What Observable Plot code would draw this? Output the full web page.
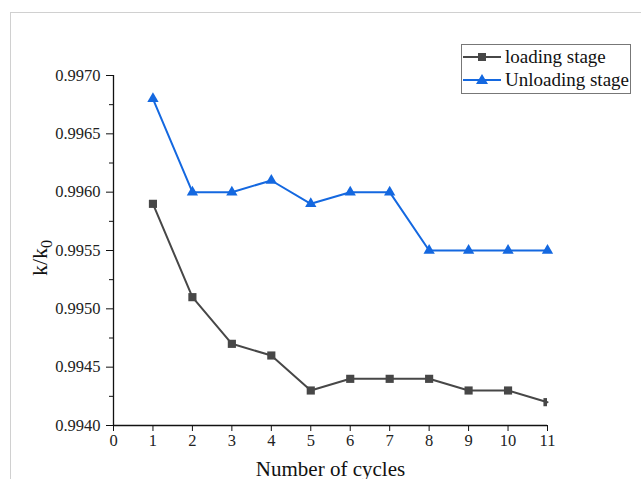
<!DOCTYPE html>
<html>
<head>
<meta charset="utf-8">
<script src="https://cdn.jsdelivr.net/npm/d3@7"></script>
<script src="https://cdn.jsdelivr.net/npm/@observablehq/plot@0.6"></script>
<style>
  html, body { margin: 0; padding: 0; background: #fff; }
  #chart svg { display: block; }
  #chart svg g[aria-label$="tick label"] text { font-size: 16.5px !important; }
  #chart svg g[aria-label$="tick label"] { font-size: 16.5px !important; }
</style>
</head>
<body>
<div id="chart"></div>
<script>
const cycles = [1, 2, 3, 4, 5, 6, 7, 8, 9, 10, 11];
const loading = [0.9959, 0.9951, 0.9947, 0.9946, 0.9943, 0.9944, 0.9944, 0.9944, 0.9943, 0.9943, 0.9942];
const unloading = [0.9968, 0.9960, 0.9960, 0.9961, 0.9959, 0.9960, 0.9960, 0.9955, 0.9955, 0.9955, 0.9955];
const seriesNames = ["loading stage", "Unloading stage"];
const xTicks = [0, 1, 2, 3, 4, 5, 6, 7, 8, 9, 10, 11];
const yTicks = [0.9940, 0.9945, 0.9950, 0.9955, 0.9960, 0.9965, 0.9970];
const yMinor = [0.99425, 0.99475, 0.99525, 0.99575, 0.99625, 0.99675];

const gray = "#474747";
const blue = "#1468e0";
const font = "'Liberation Serif', 'Times New Roman', serif";

const dataL = cycles.map((c, i) => ({x: c, y: loading[i]}));
const dataU = cycles.map((c, i) => ({x: c, y: unloading[i]}));

const plot = Plot.plot({
  width: 641,
  height: 479,
  marginLeft: 113,
  marginRight: 94,
  marginTop: 75,
  marginBottom: 54,
  style: {fontFamily: font, fontSize: "16.5px", color: "#222", background: "#fff"},
  x: {domain: [0, 11]},
  y: {domain: [0.9940, 0.9970]},
  marks: [
    Plot.axisX({ticks: xTicks, tickSize: 6, tickPadding: 3, tickFormat: d => d, label: null, fontSize: 16.5, stroke: "#111"}),
    Plot.axisY({ticks: yTicks, tickSize: 7, tickPadding: 6, tickFormat: d3.format(".4f"), label: null, fontSize: 16.5, stroke: "#111"}),
    Plot.axisY({ticks: yMinor, tickSize: 4, text: null, label: null, stroke: "#111"}),
    Plot.ruleX([0], {stroke: "#111", strokeWidth: 1.3}),
    Plot.ruleY([0.9940], {stroke: "#111", strokeWidth: 1.3}),
    Plot.line(dataL, {x: "x", y: "y", stroke: gray, strokeWidth: 2}),
    Plot.line(dataU, {x: "x", y: "y", stroke: blue, strokeWidth: 2}),
    Plot.dot(dataL, {x: "x", y: "y", symbol: "square", r: 4.6, fill: gray, clip: true}),
    Plot.dot(dataU, {x: "x", y: "y", symbol: "triangle", r: 4.2, fill: blue}),
    Plot.text(["Number of cycles"], {frameAnchor: "bottom", dy: 50, fontSize: 21, fill: "#111"})
  ]
});

const svg = d3.select(plot);
svg.selectAll('g[aria-label$="tick label"]').attr("font-size", 16.5);

// outer thin frame (partially visible in the reference)
svg.insert("rect", ":first-child")
  .attr("x", 10.5).attr("y", 12.5).attr("width", 700).attr("height", 600)
  .attr("fill", "none").attr("stroke", "#d0d0d0").attr("stroke-width", 1);

// y axis title k/k0
const yt = svg.append("text")
  .attr("transform", "translate(47,258) rotate(-90)")
  .attr("text-anchor", "middle")
  .attr("font-family", font).attr("font-size", 22).attr("fill", "#111");
yt.append("tspan").text("k/k");
yt.append("tspan").attr("font-size", 16).attr("dy", 5).text("0");

// legend
const lg = svg.append("g").attr("font-family", font).attr("font-size", 19).attr("fill", "#111").attr("text-anchor", "start");
lg.append("rect").attr("x", 461.5).attr("y", 44.5).attr("width", 169).attr("height", 49)
  .attr("fill", "#fff").attr("stroke", "#777").attr("stroke-width", 1);
const colors = [gray, blue];
seriesNames.forEach((name, i) => {
  const cy = 57 + i * 23;
  lg.append("line").attr("x1", 463).attr("x2", 501).attr("y1", cy).attr("y2", cy)
    .attr("stroke", colors[i]).attr("stroke-width", 2);
  if (i === 0) {
    lg.append("rect").attr("x", 478).attr("y", cy - 4).attr("width", 8).attr("height", 8).attr("fill", gray);
  } else {
    lg.append("path").attr("d", `M482,${cy - 6}L488,${cy + 4}L476,${cy + 4}Z`).attr("fill", blue);
  }
  lg.append("text").attr("x", 505).attr("y", cy + 6).attr("text-anchor", "start").text(name);
});

document.getElementById("chart").appendChild(plot);
</script>
</body>
</html>
